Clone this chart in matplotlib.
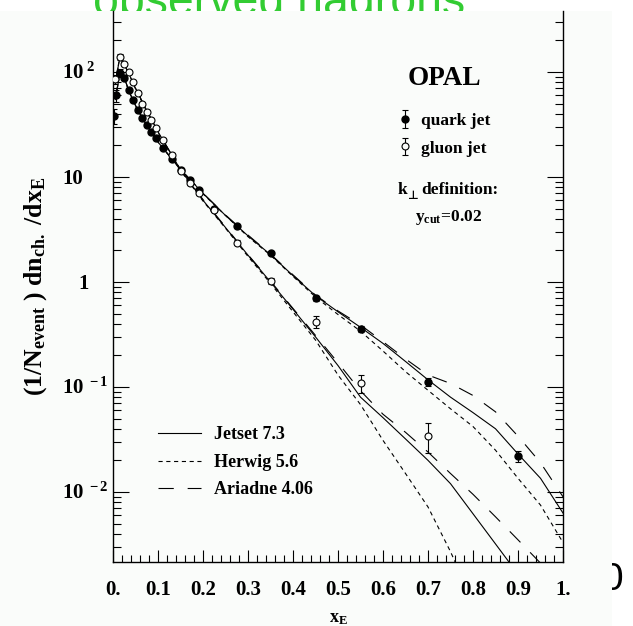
import matplotlib
matplotlib.use('Agg')
import matplotlib.pyplot as plt
from matplotlib.patches import Rectangle
from matplotlib.ticker import FixedLocator, LogLocator, NullFormatter
from matplotlib import transforms

# fontes: serif bold como no plot original do OPAL
plt.rcParams['font.family'] = 'Liberation Serif'
plt.rcParams['font.weight'] = 'bold'
plt.rcParams['mathtext.fontset'] = 'custom'
plt.rcParams['mathtext.rm'] = 'Liberation Serif:bold'
plt.rcParams['mathtext.it'] = 'Liberation Serif:bold:italic'
plt.rcParams['mathtext.bf'] = 'Liberation Serif:bold'
plt.rcParams['lines.scale_dashes'] = False

# dados medidos
quark_x = [0.003, 0.007, 0.015, 0.025, 0.035, 0.045, 0.055, 0.065, 0.075, 0.085, 0.095,
           0.11, 0.13, 0.15, 0.17, 0.19, 0.225, 0.275, 0.35, 0.45, 0.55, 0.7, 0.9]
quark_y = [38, 60, 98, 88, 67, 54, 43.5, 36.5, 31, 27, 23.6,
           19, 15, 11.7, 9.4, 7.5, 5.0, 3.4, 1.89, 0.70, 0.356, 0.112, 0.022]
quark_err = [6, 8, 9, 5, 3, 2.5, 2, 1.6, 1.3, 1.1, 1.0,
             0.7, 0.5, 0.4, 0.3, 0.25, 0.15, 0.1, 0.06, 0.04, 0.022, 0.009, 0.0026]

gluon_x = [0.005, 0.015, 0.025, 0.035, 0.045, 0.055, 0.065, 0.075, 0.085, 0.095,
           0.11, 0.13, 0.15, 0.17, 0.19, 0.225, 0.275, 0.35, 0.45, 0.55, 0.7]
gluon_y = [85, 140, 119, 99, 80, 63, 50, 42, 35, 29,
           22.5, 16.2, 11.5, 8.7, 7.0, 4.9, 2.37, 1.02, 0.42, 0.108, 0.0345]
gluon_err = [8, 9, 6, 4, 3, 2.5, 2, 1.6, 1.3, 1.1,
             0.8, 0.6, 0.45, 0.35, 0.3, 0.2, 0.12, 0.07, 0.055, 0.021, 0.011]

# curvas dos modelos
model_x = [0.005, 0.015, 0.025, 0.035, 0.05, 0.075, 0.1, 0.15, 0.2, 0.25, 0.3, 0.35, 0.4,
           0.45, 0.5, 0.55, 0.6, 0.65, 0.7, 0.75, 0.8, 0.85, 0.9, 0.95, 1.0]
quark_jetset = [55, 95, 88, 67, 48, 31, 21.5, 11.8, 7.0, 4.3, 2.75, 1.82, 1.15,
                0.74, 0.52, 0.37, 0.26, 0.175, 0.117, 0.08, 0.057, 0.04, 0.023, 0.0135, 0.0063]
quark_herwig = [56, 96, 87, 66, 47, 31, 21.5, 11.7, 6.9, 4.3, 2.7, 1.8, 1.13,
                0.72, 0.49, 0.34, 0.22, 0.14, 0.093, 0.062, 0.042, 0.025, 0.0135, 0.0075, 0.0033]
quark_ariadne = [54, 94, 88, 67, 48, 31, 21.5, 11.9, 7.0, 4.35, 2.8, 1.84, 1.17,
                 0.75, 0.53, 0.39, 0.27, 0.185, 0.13, 0.108, 0.083, 0.058, 0.034, 0.019, 0.009]
gluon_jetset = [80, 135, 118, 97, 70, 43, 27, 11.7, 6.0, 3.3, 1.8, 1.0, 0.55,
                0.30, 0.16, 0.08, 0.051, 0.032, 0.020, 0.012, 0.0062, 0.0032, 0.00165, 0.0008, 0.0004]
gluon_herwig = [82, 137, 119, 97, 69, 42, 26.5, 11.5, 5.9, 3.25, 1.75, 0.97, 0.52,
                0.28, 0.13, 0.068, 0.031, 0.015, 0.0072, 0.0027, 0.0009, 0.0003, 0.0001, 0.00005, 0.00002]
gluon_ariadne = [79, 134, 118, 97, 70, 43, 27, 11.8, 6.1, 3.35, 1.82, 1.02, 0.56,
                 0.31, 0.17, 0.092, 0.055, 0.037, 0.024, 0.015, 0.0095, 0.0058, 0.0035, 0.0021, 0.0013]

xtick_vals = [0.0, 0.1, 0.2, 0.3, 0.4, 0.5, 0.6, 0.7, 0.8, 0.9, 1.0]
xtick_labels = ['0.', '0.1', '0.2', '0.3', '0.4', '0.5', '0.6', '0.7', '0.8', '0.9', '1.']
ytick_vals = [1e-2, 1e-1, 1, 10, 1e2]
ytick_labels = [r'$10^{\ -2}$', r'$10^{\ -1}$', '1', '10', r'$10^{\ 2}$']

bg = '#fafcfa'

fig = plt.figure(figsize=(6.33, 6.26), dpi=100)
fig.patch.set_facecolor('white')

# restos do slide por baixo da figura escaneada
fig.text(93 / 633, 1 - 15 / 626, 'observed hadrons', fontsize=33.5, family='Liberation Sans',
         fontweight='normal', color='#33cc33', va='baseline', zorder=-3)
fig.text(623 / 633, 1 - 590 / 626, '0', fontsize=28, family='Liberation Sans',
         fontweight='normal', color='black', ha='right', va='baseline', zorder=-3)
fig.patches.append(Rectangle((0, 0), 612 / 633, 615 / 626, transform=fig.transFigure,
                             facecolor=bg, edgecolor='none', zorder=-2))

ax = fig.add_axes([113 / 633, 1 - 562 / 626, 450 / 633, 551 / 626])
ax.set_facecolor('none')
ax.set_yscale('log')

lw = 0.8
dash_h = (3.0, 2.6)
dash_a = (11, 10)
l1, = ax.plot(model_x, quark_jetset, color='k', lw=lw, label='Jetset 7.3')
l2, = ax.plot(model_x, quark_herwig, color='k', lw=lw, dashes=dash_h, label='Herwig 5.6')
l3, = ax.plot(model_x, quark_ariadne, color='k', lw=lw, dashes=dash_a, label='Ariadne 4.06')
ax.plot(model_x, gluon_jetset, color='k', lw=lw)
ax.plot(model_x, gluon_herwig, color='k', lw=lw, dashes=dash_h)
ax.plot(model_x, gluon_ariadne, color='k', lw=lw, dashes=dash_a)

eq = ax.errorbar(quark_x, quark_y, yerr=quark_err, fmt='o', ms=5, mfc='k', mec='k',
                 ecolor='k', elinewidth=0.8, capsize=2.2, capthick=0.8, zorder=4)
eg = ax.errorbar(gluon_x, gluon_y, yerr=gluon_err, fmt='o', ms=5, mfc=bg, mec='k', mew=0.8,
                 ecolor='k', elinewidth=0.8, capsize=2.2, capthick=0.8, zorder=4)

ax.set_xlim(0, 1)
ax.set_ylim(10 ** -2.667, 10 ** 2.581)

ax.spines['top'].set_visible(False)
for s in ['left', 'right', 'bottom']:
    ax.spines[s].set_linewidth(1.0)

ax.xaxis.set_major_locator(FixedLocator(xtick_vals))
ax.xaxis.set_minor_locator(FixedLocator([i * 0.02 for i in range(51)]))
ax.set_xticklabels(xtick_labels, fontsize=15, fontweight='bold')
ax.tick_params(axis='x', which='major', direction='in', length=8.5, width=0.8, pad=13, top=False)
ax.tick_params(axis='x', which='minor', direction='in', length=5, width=0.8, top=False)

ax.yaxis.set_major_locator(FixedLocator(ytick_vals + [1e-3]))
ax.yaxis.set_minor_locator(LogLocator(base=10, subs=range(2, 10)))
ax.yaxis.set_minor_formatter(NullFormatter())
ax.set_yticklabels([''] * 6)
ax.tick_params(axis='y', which='major', direction='in', length=11.5, width=0.8, left=True, right=True)
ax.tick_params(axis='y', which='minor', direction='in', length=6, width=0.8, left=True, right=True)

# rótulos do eixo y no formato "10 ²"
trans = transforms.offset_copy(ax.get_yaxis_transform(), fig=fig, x=0, y=-7, units='dots')
for v, t in zip(ytick_vals, ytick_labels):
    xpos = -0.078 if t == '1' else -0.113
    ax.text(xpos, v, t, transform=trans, ha='left', va='baseline', fontsize=15, fontweight='bold')

ax.set_ylabel(r'(1/N$_{\rm event}$ ) dn$_{\rm ch.}$ /dx$_{\rm E}$', fontsize=18.5, fontweight='bold')
ax.yaxis.set_label_coords(-0.142, 0.5)
ax.set_xlabel(r'x$_{\rm E}$', fontsize=13, fontweight='bold', va='top')
ax.xaxis.set_label_coords(0.5, -0.088)

# textos do canto superior direito
ax.text(0.655, 0.878, 'OPAL', transform=ax.transAxes, fontsize=19.5, fontweight='bold', va='center')
leg1 = ax.legend([eq, eg], ['quark jet', 'gluon jet'], loc='upper left', bbox_to_anchor=(0.629, 0.815),
                 frameon=False, borderpad=0, borderaxespad=0, handlelength=1.0, handletextpad=0.45,
                 labelspacing=0.65, prop={'family': 'Liberation Serif', 'weight': 'bold', 'size': 12.5})
ax.add_artist(leg1)
tk = ax.text(0.633, 0.675, 'k', transform=ax.transAxes, fontsize=12.5, fontweight='bold', va='center')
ax.annotate('\u22a5', xy=(1, 0), xycoords=tk, xytext=(0.3, -3), textcoords='offset points',
            fontsize=8.5, family='DejaVu Sans', fontweight='bold', ha='left', va='bottom')
ax.annotate('definition:', xy=(1, 0), xycoords=tk, xytext=(10, 0), textcoords='offset points',
            fontsize=12.5, fontweight='bold', ha='left', va='bottom')
ax.text(0.671, 0.625, r'y$_{\rm cut}$=0.02', transform=ax.transAxes, fontsize=12.5,
        fontweight='bold', va='center')

ax.legend([l1, l2, l3], ['Jetset 7.3', 'Herwig 5.6', 'Ariadne 4.06'], loc='upper left',
          bbox_to_anchor=(0.10, 0.246), frameon=False, borderpad=0, borderaxespad=0,
          handlelength=2.4, handletextpad=0.7, labelspacing=0.58,
          prop={'family': 'Liberation Serif', 'weight': 'bold', 'size': 13})

plt.savefig('out.png', dpi=100)
